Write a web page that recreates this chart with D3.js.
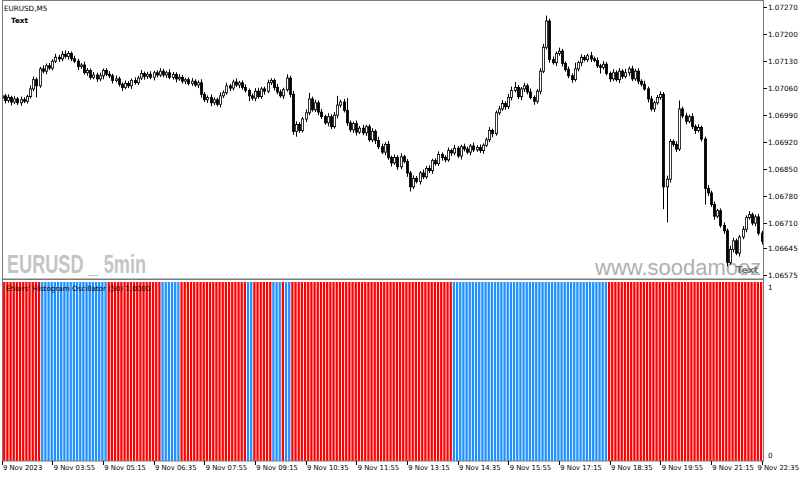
<!DOCTYPE html>
<html>
<head>
<meta charset="utf-8">
<script src="https://cdn.jsdelivr.net/npm/d3@7"></script>
<style>
  body { margin: 0; background: #fff; }
  svg { display: block; }
  .ax { font-family: "DejaVu Sans", sans-serif; font-size: 7.2px; fill: #000; }
</style>
</head>
<body>
<div id="canvas"></div>
<script>
var width = 800,
    height = 477;

// EURUSD M5 closes, 9 Nov 2023 02:35 .. 22:35 (one per bar)
var firstOpen = 1.07034;
var closes = [
  1.07040, 1.07028, 1.07036, 1.07024, 1.07032, 1.07022, 1.07030, 1.07026, 1.07038, 1.07058,
  1.07082, 1.07066, 1.07110, 1.07104, 1.07118, 1.07112, 1.07130, 1.07140, 1.07136, 1.07148,
  1.07142, 1.07150, 1.07136, 1.07130, 1.07116, 1.07120, 1.07100, 1.07106, 1.07088, 1.07094,
  1.07084, 1.07092, 1.07106, 1.07096, 1.07092, 1.07080, 1.07084, 1.07070, 1.07062, 1.07072,
  1.07066, 1.07080, 1.07074, 1.07086, 1.07098, 1.07090, 1.07096, 1.07088, 1.07100, 1.07094,
  1.07104, 1.07094, 1.07100, 1.07088, 1.07096, 1.07084, 1.07088, 1.07078, 1.07082, 1.07072,
  1.07078, 1.07068, 1.07074, 1.07044, 1.07030, 1.07036, 1.07022, 1.07030, 1.07018, 1.07040,
  1.07048, 1.07066, 1.07060, 1.07076, 1.07068, 1.07074, 1.07062, 1.07054, 1.07040, 1.07034,
  1.07052, 1.07038, 1.07058, 1.07052, 1.07074, 1.07080, 1.07062, 1.07050, 1.07040, 1.07056,
  1.07086, 1.07044, 1.06948, 1.06966, 1.06950, 1.06980, 1.06996, 1.07032, 1.07004, 1.07022,
  1.06998, 1.06986, 1.06970, 1.06986, 1.06960, 1.06990, 1.07016, 1.07024, 1.07002, 1.06970,
  1.06952, 1.06968, 1.06946, 1.06956, 1.06944, 1.06960, 1.06926, 1.06948, 1.06924, 1.06908,
  1.06894, 1.06914, 1.06880, 1.06866, 1.06880, 1.06856, 1.06882, 1.06870, 1.06840, 1.06804,
  1.06826, 1.06818, 1.06840, 1.06830, 1.06852, 1.06846, 1.06872, 1.06864, 1.06888, 1.06880,
  1.06874, 1.06898, 1.06892, 1.06904, 1.06884, 1.06908, 1.06902, 1.06894, 1.06910, 1.06900,
  1.06906, 1.06898, 1.06912, 1.06926, 1.06950, 1.06942, 1.06996, 1.07006, 1.07020, 1.07012,
  1.07036, 1.07054, 1.07062, 1.07038, 1.07058, 1.07066, 1.07050, 1.07036, 1.07026, 1.07052,
  1.07104, 1.07166, 1.07234, 1.07134, 1.07126, 1.07150, 1.07156, 1.07124, 1.07108, 1.07092,
  1.07082, 1.07110, 1.07126, 1.07140, 1.07134, 1.07144, 1.07136, 1.07132, 1.07118, 1.07114,
  1.07122, 1.07098, 1.07084, 1.07100, 1.07082, 1.07104, 1.07090, 1.07100, 1.07110, 1.07084,
  1.07104, 1.07078, 1.07070, 1.07058, 1.07032, 1.07006, 1.07022, 1.07036, 1.07044, 1.06804,
  1.06824, 1.06922, 1.06914, 1.06902, 1.07006, 1.06988, 1.06974, 1.06986, 1.06960, 1.06950,
  1.06958, 1.06928, 1.06800, 1.06788, 1.06758, 1.06728, 1.06742, 1.06704, 1.06690, 1.06608,
  1.06642, 1.06664, 1.06632, 1.06674, 1.06694, 1.06724, 1.06732, 1.06710, 1.06726, 1.06684,
  1.06662
];
// wick lengths in points (0.00001) above / below the body
var upWick = [
  6,5,8,4,7,5,8,6,5,9, 8,6,5,9,6,8,5,9,6,8, 10,6,5,8,6,5,9,6,5,8, 6,8,5,6,8,5,9,6,5,8,
  6,5,8,6,9,5,6,8,5,6, 8,6,5,9,6,5,8,6,5,6, 8,5,6,9,6,5,8,6,5,9, 6,8,5,6,9,5,6,8,5,6,
  8,9,5,6,8,6,5,9,6,5, 10,6,9,8,6,5,9,16,6,8, 6,8,5,9,6,8,24,6,8,32, 6,5,8,6,9,5,6,8,5,10,
  8,6,9,5,8,6,9,5,6,5, 8,6,5,9,6,8,5,6,8,5, 6,8,5,9,6,5,8,6,5,9, 6,8,5,6,9,5,6,8,9,6,
  9,10,14,6,5,8,6,9,5,6, 8,9,14,6,8,5,9,6,5,8, 6,16,5,8,6,5,10,6,8,5, 8,6,5,9,6,8,5,10,6,8,
  6,8,5,9,6,8,5,6,8,6, 9,6,5,8,22,6,8,5,9,6, 8,5,6,9,6,8,5,6,8,6, 9,8,6,5,8,6,9,5,6,8,
  6
];
var dnWick = [
  5,8,6,9,5,6,8,5,6,5, 6,30,5,6,8,5,6,5,8,6, 5,8,6,5,9,6,5,8,6,5, 8,6,9,5,6,8,5,6,9,5,
  6,8,5,6,5,8,6,5,8,6, 5,6,8,5,6,9,5,6,8,5, 6,5,8,9,6,8,9,6,5,8, 6,5,8,6,5,8,6,5,14,6,
  8,5,6,9,5,6,8,6,5,8, 5,8,9,14,6,5,8,6,5,6, 8,6,5,9,6,5,8,6,5,8, 6,8,9,5,6,8,5,6,9,6,
  5,8,6,9,5,8,6,5,10,12, 6,5,8,6,5,6,8,5,6,8, 6,5,8,6,5,9,6,5,8,6, 5,6,8,5,6,9,5,6,5,8,
  6,8,5,6,9,8,6,5,9,6, 8,5,6,8,5,9,6,8,5,6, 8,5,6,9,5,6,8,5,6,16, 6,5,8,6,5,9,6,5,8,6,
  5,8,6,5,9,6,8,5,6,58, 92,9,6,8,5,6,8,5,6,9, 5,6,42,8,6,9,5,6,8,10, 6,8,5,9,6,8,5,6,8,6,
  8
];

// Ehlers' Histogram Oscillator state runs: [state, number of bars]
var oscRuns = [
  ["dn", 13], ["up", 21], ["dn", 17], ["up", 6], ["dn", 21], ["up", 2], ["dn", 6],
  ["up", 3], ["dn", 1], ["up", 2], ["dn", 51], ["up", 49], ["dn", 49]
];

var priceTicks = [1.07270, 1.07200, 1.07130, 1.07060, 1.06990, 1.06920,
                  1.06850, 1.06780, 1.06710, 1.06645, 1.06575];
var timeTickBars = [0, 16, 32, 48, 64, 80, 96, 112, 128, 144, 160, 176, 192, 208, 224, 240];
var timeTickLabels = ["9 Nov 2023", "9 Nov 03:55", "9 Nov 05:15", "9 Nov 06:35", "9 Nov 07:55",
  "9 Nov 09:15", "9 Nov 10:35", "9 Nov 11:55", "9 Nov 13:15", "9 Nov 14:35", "9 Nov 15:55",
  "9 Nov 17:15", "9 Nov 18:35", "9 Nov 19:55", "9 Nov 21:15", "9 Nov 22:35"];

// build candles
var candles = closes.map(function(c, i) {
  var o = i === 0 ? firstOpen : closes[i - 1];
  return {
    i: i, o: o, c: c,
    h: Math.max(o, c) + upWick[i] / 100000,
    l: Math.min(o, c) - dnWick[i] / 100000
  };
});
var osc = [];
oscRuns.forEach(function(r) {
  for (var k = 0; k < r[1]; k++) osc.push({ i: osc.length, state: r[0], value: 1 });
});

var plotL = 2, plotR = 763,
    mainT = 1, mainB = 279,
    indT = 281, indB = 461;

var x = d3.scaleLinear().domain([0, 240]).range([1.5, 761.5]);
var y = d3.scaleLinear().domain([1.06565, 1.07286]).range([mainB, mainT]);
var yi = d3.scaleLinear().domain([0, 1]).range([indB, indT + 1]);

var svg = d3.select("#canvas").append("svg")
    .attr("width", width)
    .attr("height", height);

svg.append("rect").attr("width", width).attr("height", height).attr("fill", "#fff");

var defs = svg.append("defs");
defs.append("clipPath").attr("id", "clipMain")
  .append("rect").attr("x", plotL).attr("y", 0).attr("width", plotR - plotL).attr("height", mainB);
defs.append("clipPath").attr("id", "clipInd")
  .append("rect").attr("x", plotL + 1).attr("y", indT).attr("width", plotR - plotL - 1).attr("height", indB - indT);

// watermarks
var main = svg.append("g").attr("clip-path", "url(#clipMain)");
main.append("text")
  .attr("x", 7).attr("y", 273)
  .attr("font-family", "'Liberation Sans Narrow', 'Liberation Sans', sans-serif")
  .attr("font-weight", "bold").attr("font-size", 26)
  .attr("textLength", 139).attr("lengthAdjust", "spacingAndGlyphs")
  .attr("fill", "#c4c4c4")
  .text("EURUSD _ 5min");
main.append("text")
  .attr("x", 595).attr("y", 275)
  .attr("font-family", "'Liberation Sans', sans-serif")
  .attr("font-size", 22)
  .attr("fill", "#b0b0b0")
  .text("www.soodamooz");
main.append("text")
  .attr("x", 736).attr("y", 273)
  .attr("font-family", "'DejaVu Sans', sans-serif")
  .attr("font-weight", "bold").attr("font-size", 9.5)
  .attr("fill", "#6e6e6e")
  .text("Text");

// candles
var cg = main.append("g");
cg.selectAll("line.wick")
  .data(candles).enter()
  .append("line")
  .attr("class", "wick")
  .attr("x1", function(d) { return Math.round(x(d.i)) + 0.5; })
  .attr("x2", function(d) { return Math.round(x(d.i)) + 0.5; })
  .attr("y1", function(d) { return y(d.h); })
  .attr("y2", function(d) { return y(d.l); })
  .attr("stroke", "#000").attr("stroke-width", 1);

cg.selectAll("rect.body")
  .data(candles).enter()
  .append("rect")
  .attr("class", "body")
  .attr("x", function(d) { return Math.round(x(d.i)) - 0.6; })
  .attr("width", 2.2)
  .attr("y", function(d) { return y(Math.max(d.o, d.c)); })
  .attr("height", function(d) { return Math.max(1, Math.abs(y(d.o) - y(d.c))); })
  .attr("fill", function(d) { return d.c >= d.o ? "#fff" : "#000"; })
  .attr("stroke", "#000").attr("stroke-width", 0.8);

// indicator histogram
var ig = svg.append("g").attr("clip-path", "url(#clipInd)");
var bw = x(1) - x(0);
ig.selectAll("rect")
  .data(osc).enter()
  .append("rect")
  .attr("x", function(d) { return x(d.i) - bw / 2; })
  .attr("width", bw * 0.72)
  .attr("y", function(d) { return yi(d.value); })
  .attr("height", function(d) { return yi(0) - yi(d.value); })
  .attr("fill", function(d) { return d.state === "up" ? "#1e90ff" : "#ff0000"; });

// frames
svg.append("rect").attr("x", plotL + 0.5).attr("y", 0.5)
  .attr("width", plotR - plotL).attr("height", mainB - 0.5)
  .attr("fill", "none").attr("stroke", "#7a7a7a");
svg.append("rect").attr("x", plotL + 0.5).attr("y", indT - 1.5)
  .attr("width", plotR - plotL).attr("height", indB - indT + 1.5)
  .attr("fill", "none").attr("stroke", "#7a7a7a");

// price axis
var pa = svg.append("g");
pa.selectAll("line").data(priceTicks).enter().append("line")
  .attr("x1", plotR + 0.5).attr("x2", plotR + 4)
  .attr("y1", function(d) { return Math.round(y(d)) + 0.5; })
  .attr("y2", function(d) { return Math.round(y(d)) + 0.5; })
  .attr("stroke", "#000");
pa.selectAll("text").data(priceTicks).enter().append("text")
  .attr("class", "ax")
  .attr("x", plotR + 5)
  .attr("y", function(d) { return y(d) + 2.6; })
  .text(function(d) { return d.toFixed(5); });

// indicator scale
svg.append("text").attr("class", "ax").attr("x", plotR + 5).attr("y", 289.5).text("1");
svg.append("text").attr("class", "ax").attr("x", plotR + 5).attr("y", 457.5).text("0");

// time axis
var ta = svg.append("g");
ta.selectAll("line").data(timeTickBars).enter().append("line")
  .attr("x1", function(d) { return Math.round(x(d)) + 0.5; })
  .attr("x2", function(d) { return Math.round(x(d)) + 0.5; })
  .attr("y1", indB).attr("y2", indB + 4)
  .attr("stroke", "#000");
ta.selectAll("text").data(timeTickBars).enter().append("text")
  .attr("class", "ax")
  .style("font-size", "6.8px")
  .attr("x", function(d, k) { return k === timeTickBars.length - 1 ? 799 : x(d) + 1.5; })
  .attr("text-anchor", function(d, k) { return k === timeTickBars.length - 1 ? "end" : "start"; })
  .attr("y", 470)
  .text(function(d, k) { return timeTickLabels[k]; });

// labels
svg.append("text").attr("class", "ax").attr("x", 4).attr("y", 10.5).attr("fill", "#222")
  .text("EURUSD,M5");
svg.append("text").attr("x", 11).attr("y", 22.5)
  .attr("font-family", "'DejaVu Sans', sans-serif").attr("font-size", 7.2)
  .attr("font-weight", "bold").attr("fill", "#000")
  .text("Text");
svg.append("text").attr("class", "ax").attr("x", 6).attr("y", 290.5).attr("fill", "#222")
  .text("Ehlers' Histogram Oscillator (50) 1.0000");
</script>
</body>
</html>
